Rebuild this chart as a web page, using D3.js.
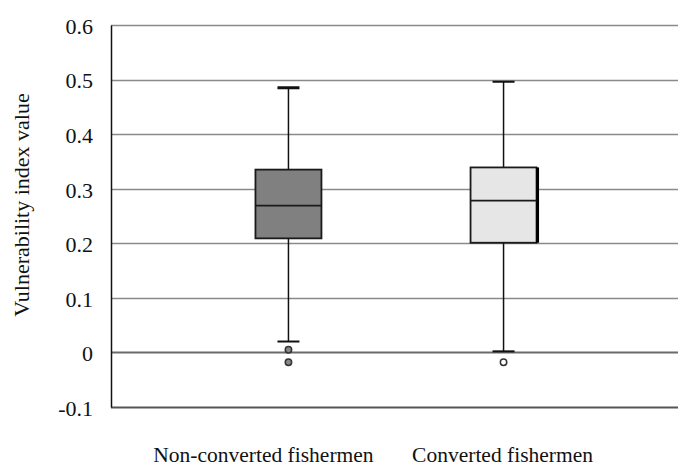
<!DOCTYPE html>
<html>
<head>
<meta charset="utf-8">
<style>
  body { margin: 0; background: #fff; }
  svg text { font-family: "Liberation Serif", "Times New Roman", serif; fill: #111; }
</style>
</head>
<body>
<div id="chart"></div>
<script src="https://d3js.org/d3.v7.min.js"></script>
<script>
// groups and their box statistics
var groups = ["Non-converted fishermen", "Converted fishermen"];
var whiskerLow  = [0.020, 0.002];
var q1          = [0.209, 0.201];
var median      = [0.269, 0.278];
var q3          = [0.335, 0.339];
var whiskerHigh = [0.485, 0.496];
var outliers    = [[0.005, -0.018], [-0.018]];
var boxFill     = ["#808080", "#e6e6e6"];
var yTicks      = [-0.1, 0, 0.1, 0.2, 0.3, 0.4, 0.5, 0.6];

var width = 678, height = 468;
var margin = {top: 25, right: 0, bottom: 61, left: 111};
var w = width - margin.left - margin.right;
var h = height - margin.top - margin.bottom;
var serif = '"Liberation Serif", "Times New Roman", serif';

var svg = d3.select("#chart").append("svg")
    .attr("width", width)
    .attr("height", height);
var g = svg.append("g").attr("transform", "translate(" + margin.left + "," + margin.top + ")");

var y = d3.scaleLinear().domain([-0.1, 0.6]).range([h, 0]);
var x = d3.scaleBand().domain(groups).range([0, 570]).paddingInner(0.45).paddingOuter(0.55);

// gridlines
g.append("g")
  .selectAll("line")
  .data(yTicks)
  .enter().append("line")
    .attr("x1", 0)
    .attr("x2", w)
    .attr("y1", function(d) { return Math.round(y(d)) + 0.5; })
    .attr("y2", function(d) { return Math.round(y(d)) + 0.5; })
    .attr("stroke", function(d) { return d === 0 ? "#6a6a6a" : (d === -0.1 ? "#555" : "#8a8a8a"); })
    .attr("stroke-width", function(d) { return (d === 0 || d === -0.1) ? 2.2 : 1.4; });

// y axis
var yAxis = g.append("g")
    .call(d3.axisLeft(y).tickValues(yTicks).tickSize(0).tickPadding(18)
      .tickFormat(function(d) { return d === 0 ? "0" : d.toFixed(1); }));
yAxis.attr("font-family", null);
yAxis.select(".domain").attr("stroke", "#111").attr("stroke-width", 1.5);
yAxis.selectAll("text")
    .style("font-family", serif)
    .style("font-size", "22px")
    .attr("dy", "0.38em")
    .attr("fill", "#222");

g.append("text")
    .attr("transform", "rotate(-90)")
    .attr("x", -180)
    .attr("y", -82)
    .attr("text-anchor", "middle")
    .style("font-family", serif)
    .style("font-size", "22px")
    .text("Vulnerability index value");

var boxW = 66, capW = 22;

groups.forEach(function(name, i) {
  var cx = x(name) + x.bandwidth() / 2;
  var bg = g.append("g");

  // whisker line
  bg.append("line")
      .attr("x1", cx).attr("x2", cx)
      .attr("y1", y(whiskerLow[i])).attr("y2", y(whiskerHigh[i]))
      .attr("stroke", "#111").attr("stroke-width", 1.5);
  // caps
  [whiskerLow[i], whiskerHigh[i]].forEach(function(v, k) {
    bg.append("line")
        .attr("x1", cx - capW / 2).attr("x2", cx + capW / 2)
        .attr("y1", y(v)).attr("y2", y(v))
        .attr("stroke", "#111").attr("stroke-width", (i === 0 && k === 1) ? 3 : 2);
  });
  // box
  bg.append("rect")
      .attr("x", cx - boxW / 2)
      .attr("y", y(q3[i]))
      .attr("width", boxW)
      .attr("height", y(q1[i]) - y(q3[i]))
      .attr("fill", boxFill[i])
      .attr("stroke", "#1a1a1a")
      .attr("stroke-width", 1.8);
  if (i === 1) {
    bg.append("line")
        .attr("x1", cx + boxW / 2 + 1).attr("x2", cx + boxW / 2 + 1)
        .attr("y1", y(q3[i])).attr("y2", y(q1[i]))
        .attr("stroke", "#000").attr("stroke-width", 3);
  }
  // median
  bg.append("line")
      .attr("x1", cx - boxW / 2).attr("x2", cx + boxW / 2)
      .attr("y1", y(median[i])).attr("y2", y(median[i]))
      .attr("stroke", "#1a1a1a").attr("stroke-width", 1.8);
  // outliers
  bg.selectAll("circle")
    .data(outliers[i])
    .enter().append("circle")
      .attr("cx", cx)
      .attr("cy", function(d) { return y(d); })
      .attr("r", 3.2)
      .attr("fill", i === 0 ? "#888" : "#fff")
      .attr("stroke", "#333")
      .attr("stroke-width", 1.5);
});

// category labels
var labelOffset = [-25, -1];
g.selectAll(".xlab")
  .data(groups)
  .enter().append("text")
    .attr("class", "xlab")
    .attr("x", function(d, i) { return x(d) + x.bandwidth() / 2 + labelOffset[i]; })
    .attr("y", h + 55)
    .attr("text-anchor", "middle")
    .style("font-family", serif)
    .style("font-size", "21.5px")
    .text(function(d) { return d; });
</script>
</body>
</html>
